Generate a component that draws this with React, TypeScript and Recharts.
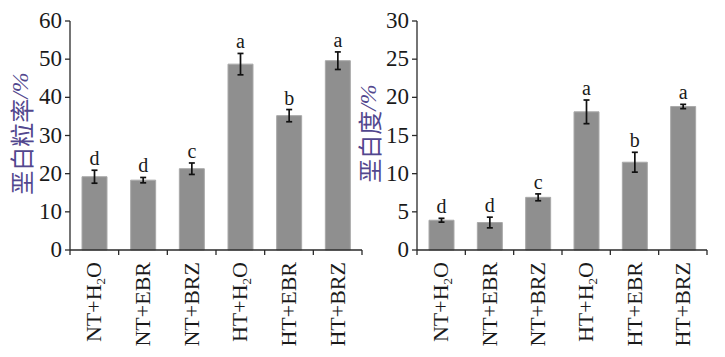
import React from "react";
import {
  BarChart,
  Bar,
  XAxis,
  YAxis,
  ErrorBar,
  LabelList,
} from "recharts";

const categories = ["NT+H2O", "NT+EBR", "NT+BRZ", "HT+H2O", "HT+EBR", "HT+BRZ"];

// 垩白粒率 (%)
const chalkyRate = [19.2, 18.3, 21.3, 48.7, 35.2, 49.6];
const chalkyRateErr = [1.7, 0.7, 1.5, 2.8, 1.6, 2.3];
const chalkyRateSig = ["d", "d", "c", "a", "b", "a"];
const chalkyRateTicks = [0, 10, 20, 30, 40, 50, 60];

// 垩白度 (%)
const chalkiness = [3.9, 3.6, 6.9, 18.1, 11.5, 18.8];
const chalkinessErr = [0.25, 0.7, 0.45, 1.55, 1.3, 0.28];
const chalkinessSig = ["d", "d", "c", "a", "b", "a"];
const chalkinessTicks = [0, 5, 10, 15, 20, 25, 30];

const SERIF = '"Liberation Serif", "DejaVu Serif", serif';
const CJK = '"Noto Sans CJK SC", sans-serif';
const AXIS = "#2a2a2a";
const TITLE = "#52478e";

const buildRows = (values: number[], errs: number[], sig: string[]) =>
  categories.map((name, i) => ({ name, value: values[i], err: errs[i], sig: sig[i] }));

const CategoryTick = (props: any) => {
  const { x, y, payload, index, width, visibleTicksCount } = props;
  const band =
    payload && payload.offset ? payload.offset * 2 : width / (visibleTicksCount || categories.length);
  const label: string = payload.value;
  const hasWater = label.endsWith("H2O");
  const head = hasWater ? label.slice(0, -3) : label;
  const bx = x + 7;
  const by = y + 12;
  return (
    <g>
      <line x1={x - band / 2} x2={x - band / 2} y1={y} y2={y + 5} stroke={AXIS} strokeWidth={1.3} />
      {index === categories.length - 1 && (
        <line x1={x + band / 2} x2={x + band / 2} y1={y} y2={y + 5} stroke={AXIS} strokeWidth={1.3} />
      )}
      <text
        x={bx}
        y={by}
        transform={`rotate(-90, ${bx}, ${by})`}
        textAnchor="end"
        style={{ fontFamily: SERIF, fontSize: 22 }}
        fill="#1a1a1a"
      >
        {hasWater ? (
          <>
            {head}H
            <tspan fontSize={13} dy={4}>2</tspan>
            <tspan dy={-4}>O</tspan>
          </>
        ) : (
          head
        )}
      </text>
    </g>
  );
};

const renderNumberTick = (props: any) => {
  const { x, y, payload } = props;
  return (
    <text
      key={`n-${payload.value}`}
      x={x}
      y={y + 7}
      textAnchor="end"
      style={{ fontFamily: SERIF, fontSize: 23 }}
      fill="#1a1a1a"
    >
      {payload.value}
    </text>
  );
};

const AxisTitle = (props: any) => {
  const { viewBox, text, cx } = props;
  const cy = viewBox.y + viewBox.height / 2 - 2;
  return (
    <text
      x={cx}
      y={cy}
      transform={`rotate(-90, ${cx}, ${cy})`}
      textAnchor="middle"
      dominantBaseline="central"
      style={{ fontFamily: CJK, fontSize: 24 }}
      fill={TITLE}
    >
      {text}
      <tspan style={{ fontFamily: SERIF, fontStyle: "italic" }}>/%</tspan>
    </text>
  );
};

const sigLabel = (values: number[], errs: number[]) => (props: any) => {
  const { x, y, width, height, value, index } = props;
  const perUnit = height / values[index];
  const top = y - errs[index] * perUnit;
  return (
    <text
      x={x + width / 2}
      y={top - 5}
      textAnchor="middle"
      style={{ fontFamily: SERIF, fontSize: 20 }}
      fill="#1a1a1a"
    >
      {value}
    </text>
  );
};

type PanelProps = {
  values: number[];
  errs: number[];
  sig: string[];
  ticks: number[];
  title: string;
  left: number;
  width: number;
  margin: { top: number; right: number; left: number; bottom: number };
  yWidth: number;
  titleX: number;
};

const Panel = ({ values, errs, sig, ticks, title, left, width, margin, yWidth, titleX }: PanelProps) => {
  const data = buildRows(values, errs, sig);
  return (
    <div style={{ position: "absolute", left, top: 0 }}>
      <BarChart width={width} height={357} data={data} margin={margin} barSize={25}>
        <XAxis
          dataKey="name"
          height={107}
          tickLine={false}
          tickSize={0}
          tickMargin={0}
          axisLine={{ stroke: AXIS, strokeWidth: 1.3 }}
          tick={<CategoryTick />}
          interval={0}
        />
        <YAxis
          width={yWidth}
          domain={[ticks[0], ticks[ticks.length - 1]]}
          ticks={ticks}
          interval={0}
          tickSize={5}
          tickMargin={3}
          axisLine={{ stroke: AXIS, strokeWidth: 1.3 }}
          tickLine={{ stroke: AXIS, strokeWidth: 1.3 }}
          tick={renderNumberTick}
          label={<AxisTitle text={title} cx={titleX} />}
        />
        <Bar dataKey="value" fill="#8f8f8f" stroke="#a9a9a9" strokeWidth={1} isAnimationActive={false}>
          <ErrorBar dataKey="err" width={3} stroke="#111" strokeWidth={1.7} />
          <LabelList dataKey="sig" content={sigLabel(values, errs)} />
        </Bar>
      </BarChart>
    </div>
  );
};

export default function App() {
  return (
    <div style={{ position: "absolute", left: 0, top: 0, width: 725, height: 357, background: "#fff" }}>
      <Panel
        values={chalkyRate}
        errs={chalkyRateErr}
        sig={chalkyRateSig}
        ticks={chalkyRateTicks}
        title="垩白粒率"
        left={0}
        width={365}
        margin={{ top: 21, right: 3, left: 20, bottom: 0 }}
        yWidth={50}
        titleX={20}
      />
      <Panel
        values={chalkiness}
        errs={chalkinessErr}
        sig={chalkinessSig}
        ticks={chalkinessTicks}
        title="垩白度"
        left={345}
        width={380}
        margin={{ top: 21, right: 18, left: 32, bottom: 0 }}
        yWidth={40}
        titleX={23}
      />
    </div>
  );
}
